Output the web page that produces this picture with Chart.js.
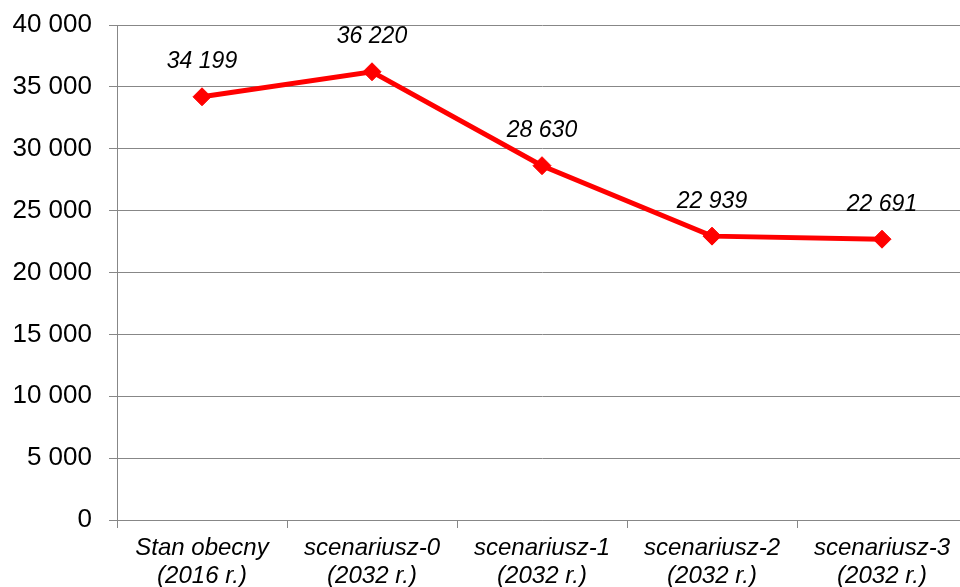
<!DOCTYPE html>
<html>
<head>
<meta charset="utf-8">
<script src="https://cdn.jsdelivr.net/npm/chart.js@4/dist/chart.umd.min.js"></script>
<style>
  html, body { margin: 0; padding: 0; background: #fff; overflow: hidden; }
  #wrap { position: absolute; left: 0; top: 0; width: 990px; height: 587px; }
</style>
</head>
<body>
<div id="wrap"><canvas id="chart"></canvas></div>
<script>
// Categories (two-line labels) and values
const categories = [
  ['Stan obecny', '(2016 r.)'],
  ['scenariusz-0', '(2032 r.)'],
  ['scenariusz-1', '(2032 r.)'],
  ['scenariusz-2', '(2032 r.)'],
  ['scenariusz-3', '(2032 r.)']
];
const values = [34199, 36220, 28630, 22939, 22691];
const yTicks = [0, 5000, 10000, 15000, 20000, 25000, 30000, 35000, 40000];

const FONT = '"Liberation Sans", Arial, sans-serif';
const GRID = '#878787';

// Thousands separated by a space, e.g. 34 199
function fmt(v) {
  return String(Math.round(v)).replace(/\B(?=(\d{3})+(?!\d))/g, ' ');
}

// Draws each point's value in italics above the marker
const valueLabels = {
  id: 'valueLabels',
  afterDatasetsDraw(chart) {
    const ctx = chart.ctx;
    const meta = chart.getDatasetMeta(0);
    const data = chart.data.datasets[0].data;
    ctx.save();
    ctx.font = 'italic 23px ' + FONT;
    ctx.fillStyle = '#000';
    ctx.textAlign = 'center';
    ctx.textBaseline = 'middle';
    meta.data.forEach((pt, i) => {
      ctx.fillText(fmt(data[i]), pt.x, pt.y - 35);
    });
    ctx.restore();
  }
};

new Chart(document.getElementById('chart'), {
  type: 'line',
  data: {
    labels: categories,
    datasets: [{
      data: values,
      borderColor: '#ff0000',
      backgroundColor: '#ff0000',
      borderWidth: 5,
      pointStyle: 'rectRot',
      pointRadius: 9,
      pointHoverRadius: 9,
      pointBorderWidth: 1,
      tension: 0,
      fill: false
    }]
  },
  options: {
    responsive: true,
    maintainAspectRatio: false,
    animation: false,
    events: [],
    layout: { padding: { top: 25, right: 23, left: 0, bottom: 0 } },
    plugins: {
      legend: { display: false },
      tooltip: { enabled: false },
      title: { display: false }
    },
    scales: {
      x: {
        offset: true,
        grid: {
          offset: true,
          drawOnChartArea: false,
          drawTicks: true,
          tickLength: 8,
          color: GRID,
          lineWidth: 1
        },
        border: { color: GRID, width: 1 },
        ticks: {
          color: '#000',
          padding: 6,
          maxRotation: 0,
          autoSkip: false,
          font: { family: FONT, size: 24, style: 'italic', lineHeight: 1.17 }
        },
        afterFit(scale) {
          scale.height = 67;
          scale.paddingLeft = 0;
          scale.paddingRight = 0;
        }
      },
      y: {
        min: 0,
        max: 40000,
        afterBuildTicks(scale) { scale.ticks = yTicks.map(v => ({ value: v })); },
        grid: {
          color: GRID,
          lineWidth: 1,
          drawTicks: true,
          tickLength: 8
        },
        border: { color: GRID, width: 1 },
        ticks: {
          color: '#000',
          padding: 17,
          font: { family: FONT, size: 26 },
          callback: (v) => fmt(v)
        },
        afterFit(scale) {
          scale.width = 117;
          scale.paddingTop = 0;
          scale.paddingBottom = 0;
        }
      }
    }
  },
  plugins: [valueLabels]
});
</script>
</body>
</html>
